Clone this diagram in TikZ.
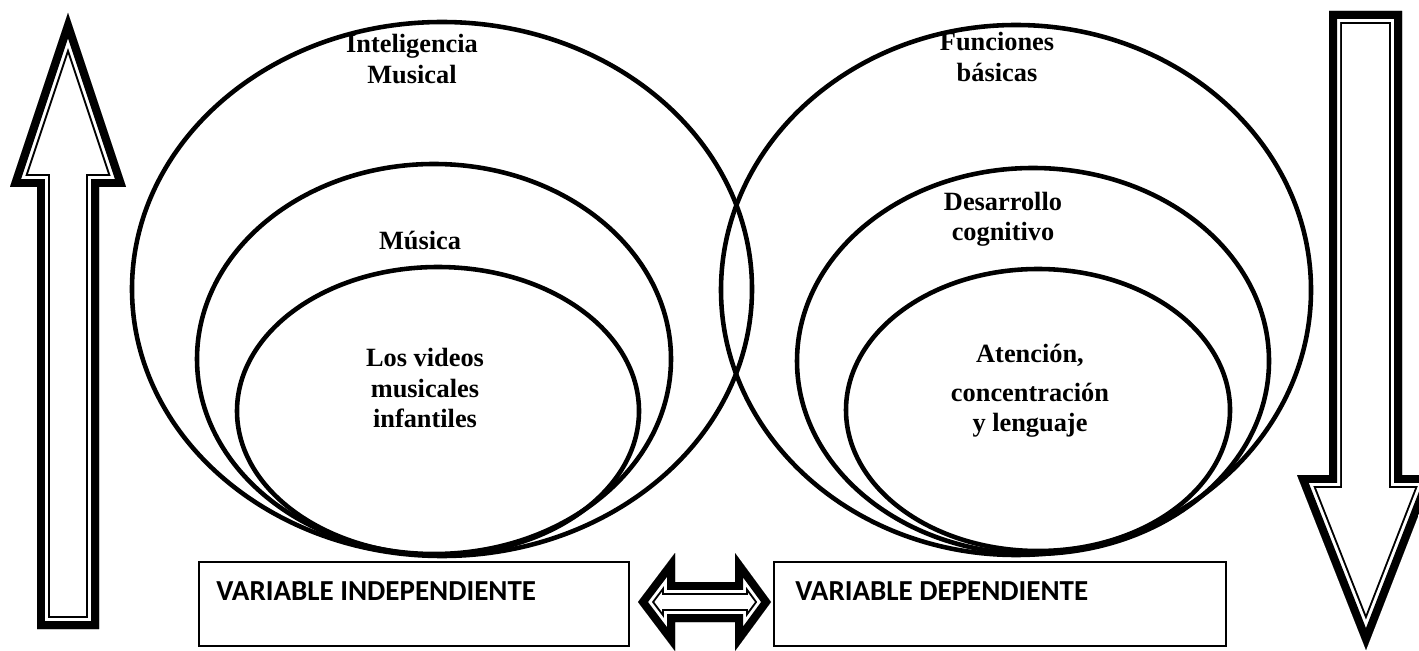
\documentclass[tikz,border=0pt]{standalone}
\usepackage{fontspec}
\setmainfont{Liberation Serif}
\newfontfamily\boxfont{Carlito}

% hollow arrow: thick outer band, white gap, thin inner line
\newcommand{\hollowarrow}[1]{%
  \fill[white] #1 -- cycle;
  \begin{scope}
    \clip #1 -- cycle;
    \draw[line width=14.7pt] #1 -- cycle;
    \draw[white, line width=12.5pt] #1 -- cycle;
    \draw[line width=9.1pt] #1 -- cycle;
  \end{scope}}

\begin{document}
\begin{tikzpicture}[x=0.02cm, y=-0.02cm,
  ring/.style={line width=2.6pt},
  ringtext/.style={align=center, font=\bfseries\fontsize{15}{17.2}\selectfont},
  boxtext/.style={anchor=base west, inner sep=0pt, font=\boxfont\bfseries\fontsize{16.5}{18}\selectfont}]
\useasboundingbox (0,0) rectangle (1419,651);
\clip (0,0) rectangle (1419,651);

% up and down arrows
\hollowarrow{(68,13) -- (126,187) -- (99,187) -- (99,629) -- (37,629) -- (37,187) -- (10,187)}
\hollowarrow{(1329,11) -- (1402,11) -- (1402,475) -- (1434,475) -- (1366,650) -- (1297,475) -- (1329,475)}

% left group
\draw[ring] (442,289) ellipse [x radius=310, y radius=267];
\draw[ring] (434,359) ellipse [x radius=237, y radius=195];
\draw[ring] (438,411) ellipse [x radius=201, y radius=144];
\node[ringtext] (intel) at (412,59) {Inteligencia\\Musical};
\node[ringtext] (musica) at (420,241) {Música};
\node[ringtext] (videos) at (425,388) {Los videos\\musicales\\infantiles};

% right group
\draw[ring] (1016,290) ellipse [x radius=295, y radius=265];
\draw[ring] (1033,361) ellipse [x radius=236, y radius=193];
\draw[ring] (1038,410) ellipse [x radius=192, y radius=141];
\node[ringtext] (funciones) at (997,57) {Funciones\\básicas};
\node[ringtext] (desarrollo) at (1003,219) {Desarrollo\\cognitivo};
\node[ringtext] (atencion) at (1030,391) {Atención,\\[5pt]concentración\\y lenguaje};

% variable boxes
\draw[line width=0.9pt] (199,562) rectangle (629,646);
\draw[line width=0.9pt] (774,562) rectangle (1226,646);
\node[boxtext] (indep) at (216,600) {VARIABLE INDEPENDIENTE};
\node[boxtext] (dep) at (795,600) {VARIABLE DEPENDIENTE};

% double arrow between boxes
\hollowarrow{(638,602) -- (675,553) -- (675,582) -- (735,582) -- (735,553) -- (771,602) -- (735,651) -- (735,622) -- (675,622) -- (675,651)}
\end{tikzpicture}
\end{document}
